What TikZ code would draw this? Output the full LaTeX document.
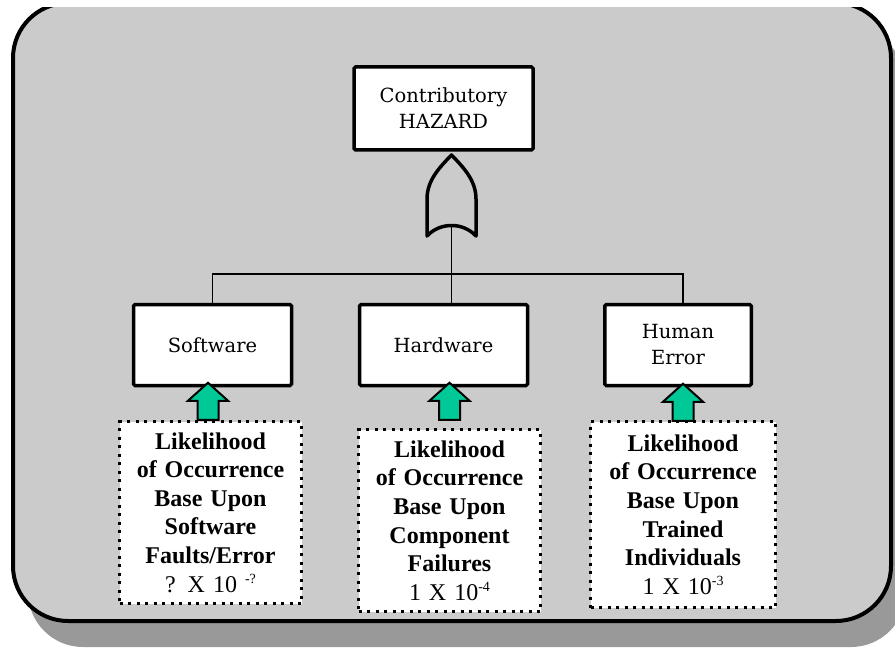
\documentclass[tikz,border=0pt]{standalone}
\usepackage{fontspec}
\setmainfont{Liberation Serif}
\newfontfamily\evfont{DejaVu Serif}
\usetikzlibrary{calc}
\definecolor{panelgray}{HTML}{CBCBCB}
\definecolor{shadowgray}{HTML}{999999}
\definecolor{arrowgreen}{HTML}{00C896}
\tikzset{
  event/.style={draw=black, line width=3.5pt, fill=white, inner sep=0pt, align=center,
    font=\evfont\fontsize{19.5}{26}\selectfont, rounded corners=1.5pt},
  basis/.style={draw=black, line width=3pt, dash pattern=on 3pt off 5.5pt, fill=white,
    inner sep=0pt, align=center, text width=176pt, font=\fontsize{24}{28.6}\selectfont},
  wire/.style={line width=1.6pt},
  gate/.style={draw=black, line width=3.5pt, fill=panelgray, line join=round},
  uparrow/.style={draw=black, line width=2pt, fill=arrowgreen, line join=miter},
}
\newcommand\upblock[1]{\draw[uparrow] (#1) -- ++(20,18) -- ++(-9.5,0) -- ++(0,19) -- ++(-21,0) -- ++(0,-19) -- ++(-9.5,0) -- cycle;}
\newcommand\supx[1]{\raisebox{9pt}{\fontsize{14}{14}\selectfont #1}}
\begin{document}
\begin{tikzpicture}[x=1pt,y=-1pt]
\useasboundingbox (0,0) rectangle (895,650);
\clip (0,0) rectangle (895,650);
% panel with shadow
\fill[shadowgray, rounded corners=55pt] (28,29) rectangle (906,647);
\draw[line width=4pt, fill=panelgray, rounded corners=55pt] (13,3) rectangle (891,621);
\fill[white] (0,-2) rectangle (895,7);
% event boxes
\node[event, minimum width=179pt, minimum height=83pt] (top) at (443.5,108.5) {Contributory\\HAZARD};
\node[event, minimum width=158pt, minimum height=81pt] (sw) at (212.5,345) {Software};
\node[event, minimum width=168pt, minimum height=81pt] (hw) at (443.5,345) {Hardware};
\node[event, minimum width=146.5pt, minimum height=81pt] (he) at (678,345) {Human\\Error};
% OR gate
\coordinate (gatein) at (451.5,155);
\coordinate (gateout) at (451.5,227);
\draw[gate] (gatein) .. controls (440,167) and (427,180) .. (427,199) -- (427,236)
  .. controls (440,222) and (463,222) .. (476,236) -- (476,199)
  .. controls (476,180) and (463,167) .. (gatein) -- cycle;
% connectors
\coordinate (bus) at (0,274);
\coordinate (heTop) at ($(he.north)+(5,0)$);
\draw[wire] (gateout) -- (gateout |- hw.north);
\draw[wire] (sw.north) -- (sw.north |- bus) -- (heTop |- bus) -- (heTop);
% basic event boxes
\node[basis, minimum width=182pt, minimum height=182pt] (swb) at (210.5,512.5)
  {\textbf{Likelihood}\\\textbf{of Occurrence}\\\textbf{Base Upon}\\\textbf{Software}\\\textbf{Faults/Error}\\? X 10 \supx{-?}};
\node[basis, minimum width=182pt, minimum height=182pt] (hwb) at (449.5,520.5)
  {\textbf{Likelihood}\\\textbf{of Occurrence}\\\textbf{Base Upon}\\\textbf{Component}\\\textbf{Failures}\\1 X 10\supx{-4}};
\node[basis, minimum width=185pt, minimum height=186pt] (heb) at (683,514.5)
  {\textbf{Likelihood}\\\textbf{of Occurrence}\\\textbf{Base Upon}\\\textbf{Trained}\\\textbf{Individuals}\\1 X 10\supx{-3}};
% arrows from basis boxes up to events
\coordinate (swtip) at ($(sw.south)+(-4.5,-4.5)$);
\coordinate (hwtip) at ($(hw.south)+(6,-4.5)$);
\coordinate (hetip) at ($(he.south)+(5,-3.5)$);
\upblock{swtip}
\upblock{hwtip}
\upblock{hetip}
\end{tikzpicture}
\end{document}
